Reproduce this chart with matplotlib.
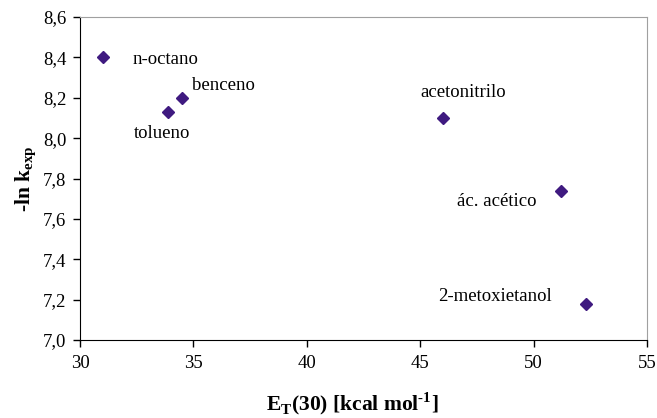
import matplotlib.pyplot as plt
from matplotlib.ticker import FuncFormatter

plt.rcParams['font.family'] = ['Liberation Serif', 'DejaVu Serif']
plt.rcParams['mathtext.fontset'] = 'custom'
plt.rcParams['mathtext.rm'] = 'Liberation Serif'
plt.rcParams['mathtext.bf'] = 'Liberation Serif:bold'

# Data
solvents = ['n-octano', 'benceno', 'tolueno', 'acetonitrilo', 'ác. acético', '2-metoxietanol']
et30 = [31.0, 34.5, 33.9, 46.0, 51.2, 52.3]
ln_k = [8.40, 8.20, 8.13, 8.10, 7.74, 7.18]

# label offsets (points) relative to each marker
offsets = [(21.5, 0), (7, 10), (-25, -14), (-16.5, 19.5), (-75, -6.5), (-106, 6.5)]

fig = plt.figure(figsize=(6.57, 4.18), dpi=100)
ax = fig.add_axes([0.1218, 0.1866, 0.8630, 0.7727])

ax.plot(et30, ln_k, linestyle='none', marker='D', markersize=6,
        color='#3f1a80', markeredgecolor='#3f1a80')

for name, x, y, off in zip(solvents, et30, ln_k, offsets):
    ax.annotate(name, (x, y), xytext=off, textcoords='offset points',
                fontsize=13.5, va='center_baseline', ha='left')

ax.set_xlim(30, 55)
ax.set_ylim(7.0, 8.6)
ax.set_xticks([30, 35, 40, 45, 50, 55])
ax.set_yticks([7.0, 7.2, 7.4, 7.6, 7.8, 8.0, 8.2, 8.4, 8.6])
ax.yaxis.set_major_formatter(FuncFormatter(lambda v, p: f'{v:.1f}'.replace('.', ',')))
ax.tick_params(direction='out', length=5, width=1, labelsize=13.5, pad=5)
ax.tick_params(axis='x', pad=6)

for s in ['top', 'right']:
    ax.spines[s].set_color('#a0a0a0')
for s in ['left', 'bottom']:
    ax.spines[s].set_color('black')

ax.set_xlabel(r'E$_{\mathbf{T}}$(30) [kcal mol$^{\mathbf{\text{-}1}}$]', fontsize=15.5,
              fontweight='bold', labelpad=12)
ax.xaxis.set_label_coords(0.48, -0.155)
ax.set_ylabel(r'-ln k$_{\mathbf{exp}}$', fontsize=15.5, fontweight='bold', labelpad=3)

plt.savefig('out.png', dpi=100)
plt.close()
